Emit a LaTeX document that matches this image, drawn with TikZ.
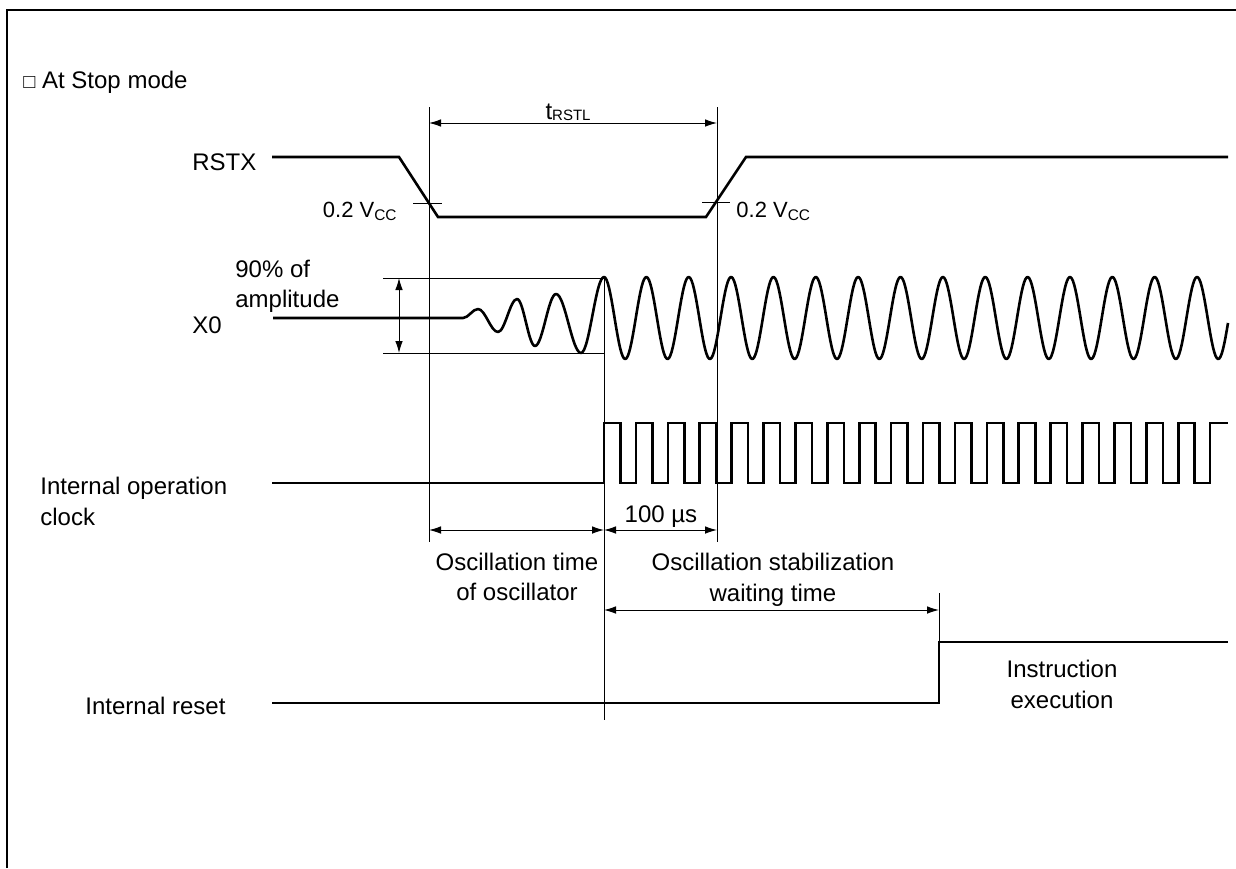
\documentclass[tikz,border=0pt]{standalone}
\usepackage{fontspec}
\setmainfont{Liberation Sans}
\usetikzlibrary{arrows.meta}
\begin{document}
\begin{tikzpicture}[x=0.5pt,y=-0.5pt,
  sig/.style={line width=1.3pt},
  thinline/.style={line width=0.5pt},
  dim/.style={line width=0.5pt,{Latex[length=6pt,width=3.8pt]}-{Latex[length=6pt,width=3.8pt]}},
  lbl/.style={font=\fontsize{12}{14.4}\selectfont,inner sep=0pt},
  vlbl/.style={font=\fontsize{11}{13.2}\selectfont,inner sep=0pt},
]
\useasboundingbox (0,0) rectangle (1236,868);
% frame
\draw[line width=1pt] (7,868) -- (7,10) -- (1236,10);
% title
\node[lbl,anchor=base west] (title) at (23,88) {{\fontsize{10}{12}\selectfont □} At Stop mode};

% signal labels
\node[lbl,anchor=base west] (rstx) at (192,170) {RSTX};
\node[lbl,anchor=base west] (amp1) at (235,277) {90\% of};
\node[lbl,anchor=base west] (amp2) at (235,307) {amplitude};
\node[lbl,anchor=base west] (x0) at (192,333) {X0};
\node[lbl,anchor=base west] (clk1) at (40,494) {Internal operation};
\node[lbl,anchor=base west] (clk2) at (40,525) {clock};
\node[lbl,anchor=base west] (rst) at (85,714) {Internal reset};

% vertical reference lines
\draw[thinline] (429,107) -- (429,542);
\draw[thinline] (717,107) -- (717,542);
\draw[thinline] (604,278) -- (604,720);
\draw[thinline] (939,593) -- (939,642);

% tRSTL
\draw[dim] (429,123) -- (717,123);
\node[lbl,anchor=base] (trstl) at (568,119) {t\raisebox{-0.1ex}{\fontsize{7.5}{9}\selectfont RSTL}};

% RSTX waveform
\draw[sig] (272,157) -- (399,157) -- (438,217) -- (706,217) -- (746,157) -- (1228,157);
\draw[thinline] (413,203) -- (442,203);
\draw[thinline] (702,202) -- (730,202);
\node[vlbl,anchor=base east] (vl) at (398,217) {0.2 V\textsubscript{CC}};
\node[vlbl,anchor=base west] (vr) at (736,217) {0.2 V\textsubscript{CC}};

% X0 waveform
\draw[thinline] (383,278) -- (604,278);
\draw[thinline] (383,353) -- (604,353);
\draw[dim] (399,278) -- (399,353);
\draw[sig,line join=round] (273,318) -- (463,318)
  .. controls (468.5,318) and (472.5,309) .. (478,309)
  .. controls (485.3,309) and (490.7,332) .. (498,332)
  .. controls (504.9,332) and (510.1,299) .. (517,299)
  .. controls (523.6,299) and (528.4,346) .. (535,346)
  .. controls (542.6,346) and (548.4,294) .. (556,294)
  .. controls (565.1,294) and (571.9,353) .. (581,353)
  .. controls (589.4,353) and (595.6,277) .. (604,277)
  -- plot[variable=\t,domain=0:624,samples=500] ({604+\t},{318-41*cos(8.4986*\t)});

% internal operation clock
\draw[sig] (272,483)
  foreach \k in {0,...,18} {
    -- ({604+31.9*\k},483) -- ({604+31.9*\k},423)
    -- ({620.5+31.9*\k},423) -- ({620.5+31.9*\k},483)
  }
  -- (1210.1,483) -- (1210.1,423) -- (1228,423);

% time dimensions
\draw[dim] (429,530) -- (604,530);
\draw[dim] (604,530) -- (717,530);
\node[lbl,anchor=base] (t100) at (661,522) {100 µs};
\node[lbl,anchor=base] (osc1) at (517,570) {Oscillation time};
\node[lbl,anchor=base] (osc2) at (517,600) {of oscillator};
\node[lbl,anchor=base] (stab1) at (773,570) {Oscillation stabilization};
\node[lbl,anchor=base] (stab2) at (773,601) {waiting time};
\draw[dim] (604,610) -- (939,610);

% internal reset
\draw[sig] (272,703) -- (939,703) -- (939,642) -- (1228,642);
\node[lbl,anchor=base] (ins1) at (1062,677) {Instruction};
\node[lbl,anchor=base] (ins2) at (1062,708) {execution};
\end{tikzpicture}
\end{document}
